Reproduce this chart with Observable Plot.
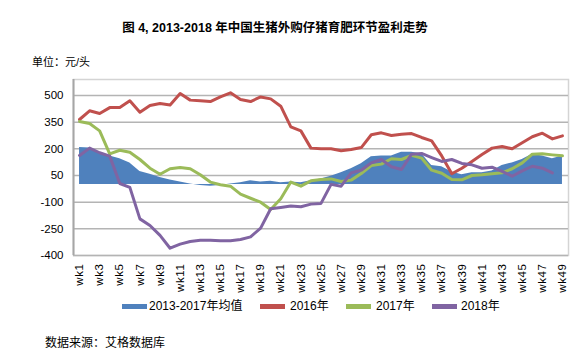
<!DOCTYPE html>
<html>
<head>
<meta charset="utf-8">
<script src="https://cdn.jsdelivr.net/npm/d3@7"></script>
<script src="https://cdn.jsdelivr.net/npm/@observablehq/plot@0.6"></script>
<style>
  body { margin: 0; background: #fff; }
  #wrap { position: relative; width: 587px; height: 353px; font-family: "Liberation Sans", Arial, "Noto Sans CJK SC", sans-serif; color: #000; overflow: hidden; }
  .abs { position: absolute; white-space: nowrap; line-height: 1; }
  #title { left: 0; width: 550px; top: 22px; text-align: center; font-size: 12.5px; font-weight: bold; }
  #unit { left: 32px; top: 57px; font-size: 11px; }
  #chart { position: absolute; left: 0; top: 70px; }
  .sw { position: absolute; height: 5px; width: 25px; top: 304px; }
  .lt { position: absolute; top: 300px; font-size: 12px; white-space: nowrap; line-height: 1; }
  #cap { left: 45px; top: 337px; font-size: 12px; }
</style>
</head>
<body>
<div id="wrap">
  <div id="title" class="abs">图 4, 2013-2018 年中国生猪外购仔猪育肥环节盈利走势</div>
  <div id="unit" class="abs">单位：元/头</div>
  <div id="chart"></div>
  <div id="legend"></div>
  <div id="cap" class="abs">数据来源：艾格数据库</div>
</div>
<script>
const weeks = ["wk1","wk2","wk3","wk4","wk5","wk6","wk7","wk8","wk9","wk10","wk11","wk12","wk13","wk14","wk15","wk16","wk17","wk18","wk19","wk20","wk21","wk22","wk23","wk24","wk25","wk26","wk27","wk28","wk29","wk30","wk31","wk32","wk33","wk34","wk35","wk36","wk37","wk38","wk39","wk40","wk41","wk42","wk43","wk44","wk45","wk46","wk47","wk48","wk49"];
const avg2013_2017 = [207,204,172,159,144,121,73,57,39,24,13,2,-6,-10,-6,2,9,20,13,18,9,13,9,20,31,46,65,88,116,155,159,159,181,181,172,106,99,69,54,65,65,76,106,121,140,170,159,144,159];
const y2016 = [365,414,399,432,432,470,406,444,455,447,511,474,470,466,492,515,477,466,492,481,440,324,301,204,200,200,189,196,207,279,290,275,282,286,264,245,160,60,91,129,168,204,213,200,234,268,288,256,273];
const y2017 = [354,342,301,172,192,181,140,91,57,88,95,88,54,13,-2,-10,-55,-78,-100,-141,-81,13,-10,20,28,31,16,24,61,106,114,144,140,163,148,80,63,28,26,50,54,60,65,88,121,170,172,166,161];
const y2018 = [163,204,178,159,5,-17,-194,-231,-287,-359,-336,-321,-314,-314,-317,-317,-310,-295,-246,-137,-130,-122,-126,-111,-107,0,-10,65,80,121,140,99,84,170,174,151,129,140,118,110,91,97,73,46,76,102,91,65,null];
const yTicks = [-400,-250,-100,50,200,350,500];
const xTickLabels = ["wk1","wk3","wk5","wk7","wk9","wk11","wk13","wk15","wk17","wk19","wk21","wk23","wk25","wk27","wk29","wk31","wk33","wk35","wk37","wk39","wk41","wk43","wk45","wk47","wk49"];
const seriesNames = ["2013-2017年均值","2016年","2017年","2018年"];
const colors = ["#4F81BD","#C0504D","#9BBB59","#8064A2"];

const rows = weeks.map((w, i) => ({x: i + 1, wk: w, avg: avg2013_2017[i], a: y2016[i], b: y2017[i], c: y2018[i]}));
const xTicks = xTickLabels.map(l => weeks.indexOf(l) + 1);

const chart = Plot.plot({
  width: 587,
  height: 230,
  marginTop: 9,
  marginBottom: 45,
  marginLeft: 73,
  marginRight: 19,
  style: {fontFamily: "'Liberation Sans', Arial, sans-serif", fontSize: "11.5px", color: "#000", background: "transparent"},
  x: {type: "linear", domain: [0.4, 49.6]},
  y: {domain: [-400, 590]},
  marks: [
    Plot.frame({stroke: "#d4d4d4", strokeWidth: 1.5}),
    Plot.ruleY(yTicks, {stroke: "#b4b4b4", strokeWidth: 1.5}),
    Plot.areaY(rows, {x: "x", y: "avg", fill: colors[0], curve: "linear"}),
    Plot.line(rows, {x: "x", y: "a", stroke: colors[1], strokeWidth: 3}),
    Plot.line(rows, {x: "x", y: "b", stroke: colors[2], strokeWidth: 3}),
    Plot.line(rows.filter(d => d.c != null), {x: "x", y: "c", stroke: colors[3], strokeWidth: 3}),
    Plot.ruleX([0.4], {stroke: "#a6a6a6", strokeWidth: 2}),
    Plot.axisY({ticks: yTicks, tickSize: 0, tickPadding: 10, tickFormat: d => String(d), label: null, fontSize: 11.5}),
    Plot.axisX({ticks: xTicks, tickSize: 0, tickPadding: 8, tickRotate: -90, tickFormat: d => weeks[d - 1], label: null, fontSize: 11.5})
  ]
});
chart.querySelectorAll("g[aria-label='x-axis tick label'] text").forEach(t => t.setAttribute("letter-spacing", "0.6"));
document.getElementById("chart").appendChild(chart);

const legend = document.getElementById("legend");
const swX = [122, 260, 346, 432];
const txX = [149, 290, 376, 461];
seriesNames.forEach((name, i) => {
  const s = document.createElement("span");
  s.className = "sw";
  s.style.left = swX[i] + "px";
  s.style.background = colors[i];
  legend.appendChild(s);
  const t = document.createElement("span");
  t.className = "lt";
  t.style.left = txX[i] + "px";
  t.textContent = name;
  legend.appendChild(t);
});
</script>
</body>
</html>
